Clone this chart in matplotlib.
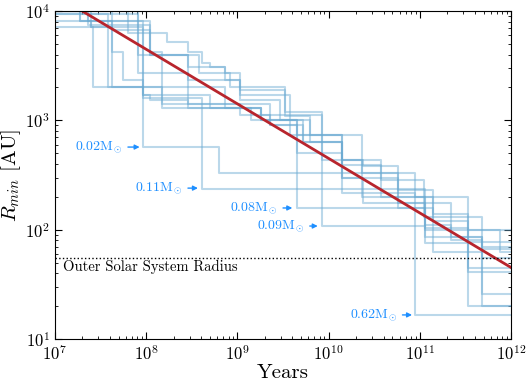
import matplotlib
matplotlib.use('Agg')
import matplotlib.pyplot as plt

plt.rcParams['font.family'] = 'serif'
plt.rcParams['font.serif'] = ['cmr10']
plt.rcParams['mathtext.fontset'] = 'cm'
plt.rcParams['axes.formatter.use_mathtext'] = True

# step histories of R_min (years, AU)
tracks_x = [
    [1e7, 6.3e7, 1.7e8, 2.9e8, 4.1e8, 5.0e8, 7.3e8, 8.3e8, 3.3e9, 6.2e9, 1.4e10, 2.4e10, 5.8e10, 1.4e11, 3.4e11, 7.6e11, 1e12],
    [1e7, 2.3e7, 1.1e8, 2.9e8, 7.3e8, 1.07e9, 3.8e9, 5.3e9, 1.4e10, 3.7e10, 1.1e11, 4.8e11, 1e12],
    [1e7, 2.6e7, 9.2e7, 1.5e8, 1.07e9, 2.3e9, 4.5e9, 1.4e10, 2.4e10, 1.14e11, 2.2e11, 4.8e11, 1e12],
    [1e7, 1.9e7, 4.2e7, 5.6e7, 9.2e7, 1.1e8, 2.9e8, 1.07e9, 1.8e9, 3.8e9, 8.5e9, 2.3e10, 1.4e11, 3.4e11, 7.6e11, 1e12],
    [1e7, 1.9e7, 9.2e7, 6.3e8, 5.8e10, 1.4e11, 4.8e11, 1e12],
    [1e7, 2.5e7, 9.2e7, 4.1e8, 1.14e11, 3.4e11, 1e12],
    [1e7, 3.8e7, 1.5e8, 5e8, 1.4e9, 4.5e9, 1.14e11, 4.8e11, 1e12],
    [1e7, 8.1e7, 2.9e8, 1.8e9, 8.5e9, 1.14e11, 3.4e11, 1e12],
    [1e7, 8.1e7, 2.9e8, 1.07e9, 2.9e9, 6.2e9, 1.4e10, 8.9e10, 1e12],
    [1e7, 2.3e7, 1.1e8, 1.5e8, 7.3e8, 1.8e9, 4.5e9, 1.4e10, 3.7e10, 1.14e11, 3.4e11, 1e12],
    [1e7, 2.5e7, 4.2e7, 1.5e8, 5e8, 2.3e9, 5.3e9, 1.4e10, 5.8e10, 2.2e11, 4.8e11, 1e12],
    [1e7, 4.2e7, 1.1e8, 3.8e8, 1.07e9, 3.3e9, 8.5e9, 2.3e10, 8.9e10, 3.4e11, 1e12],
]
tracks_y = [
    [1e4, 6290, 5200, 4220, 3340, 3070, 2710, 2020, 1100, 740, 435, 380, 230, 140, 100, 77, 77],
    [1e4, 8100, 4000, 3070, 2340, 1700, 1000, 640, 390, 285, 130, 69, 69],
    [7140, 2020, 1700, 1290, 1120, 910, 500, 300, 175, 110, 80, 66, 66],
    [1e4, 8100, 4220, 2340, 1700, 1540, 1410, 1290, 1010, 740, 435, 200, 120, 77, 62, 62],
    [1e4, 8100, 570, 330, 158, 62, 55, 55],
    [1e4, 7140, 1600, 235, 103, 41, 41],
    [9400, 2020, 1410, 1290, 1010, 158, 85, 20, 20],
    [1e4, 2710, 1290, 1120, 108, 75, 45, 45],
    [9400, 3960, 2340, 1540, 1010, 640, 216, 16.6, 16.6],
    [1e4, 7450, 4220, 2020, 1290, 1010, 740, 435, 200, 100, 20, 20],
    [8100, 7140, 2020, 1700, 1410, 910, 640, 300, 175, 85, 26, 26],
    [1e4, 6700, 4000, 2700, 1900, 1200, 740, 330, 200, 100, 100],
]

fit_x = [2e7, 1e12]
fit_y = [1e4, 45]

outer_radius = 55

labels = ['0.02M$_{\\odot}$', '0.11M$_{\\odot}$', '0.08M$_{\\odot}$', '0.09M$_{\\odot}$', '0.62M$_{\\odot}$']
label_text_x = [5.5e7, 2.5e8, 2.75e9, 5.4e9, 5.6e10]
label_head_x = [8.5e7, 3.7e8, 4.0e9, 7.6e9, 8.2e10]
label_y = [570, 240, 158, 108, 16.6]

fig = plt.figure(figsize=(5.27, 3.82), dpi=100)
ax = fig.add_axes([0.104, 0.1126, 0.866, 0.8584])

for tx, ty in zip(tracks_x, tracks_y):
    ax.plot(tx, ty, drawstyle='steps-post', color='#6aaad2', alpha=0.45, lw=1.5)

ax.plot(fit_x, fit_y, color='#b8252d', lw=2)
ax.axhline(outer_radius, color='k', ls=':', lw=1)
ax.text(1.22e7, 45.5, 'Outer Solar System Radius', fontsize=10.5, va='center', ha='left')

blue = '#1e8fff'
for lab, tx, hx, y in zip(labels, label_text_x, label_head_x, label_y):
    ax.annotate(lab, xy=(hx, y), xytext=(tx, y), ha='right', va='center',
                color=blue, fontsize=10,
                arrowprops=dict(arrowstyle='-|>', color=blue, lw=1, mutation_scale=7, shrinkA=2, shrinkB=0))

ax.set_xscale('log')
ax.set_yscale('log')
ax.set_xlim(1e7, 1e12)
ax.set_ylim(1e1, 1e4)
ax.set_xlabel('Years', fontsize=15)
ax.set_ylabel(r'$R_{min}$ [AU]', fontsize=15)
ax.xaxis.set_label_coords(0.5, -0.078)
ax.yaxis.set_label_coords(-0.07, 0.5)
ax.tick_params(which='both', direction='in', top=True, right=True, labelsize=12)
ax.tick_params(which='major', length=5)
ax.tick_params(which='minor', length=2.5)

fig.savefig('out.png', dpi=100)
